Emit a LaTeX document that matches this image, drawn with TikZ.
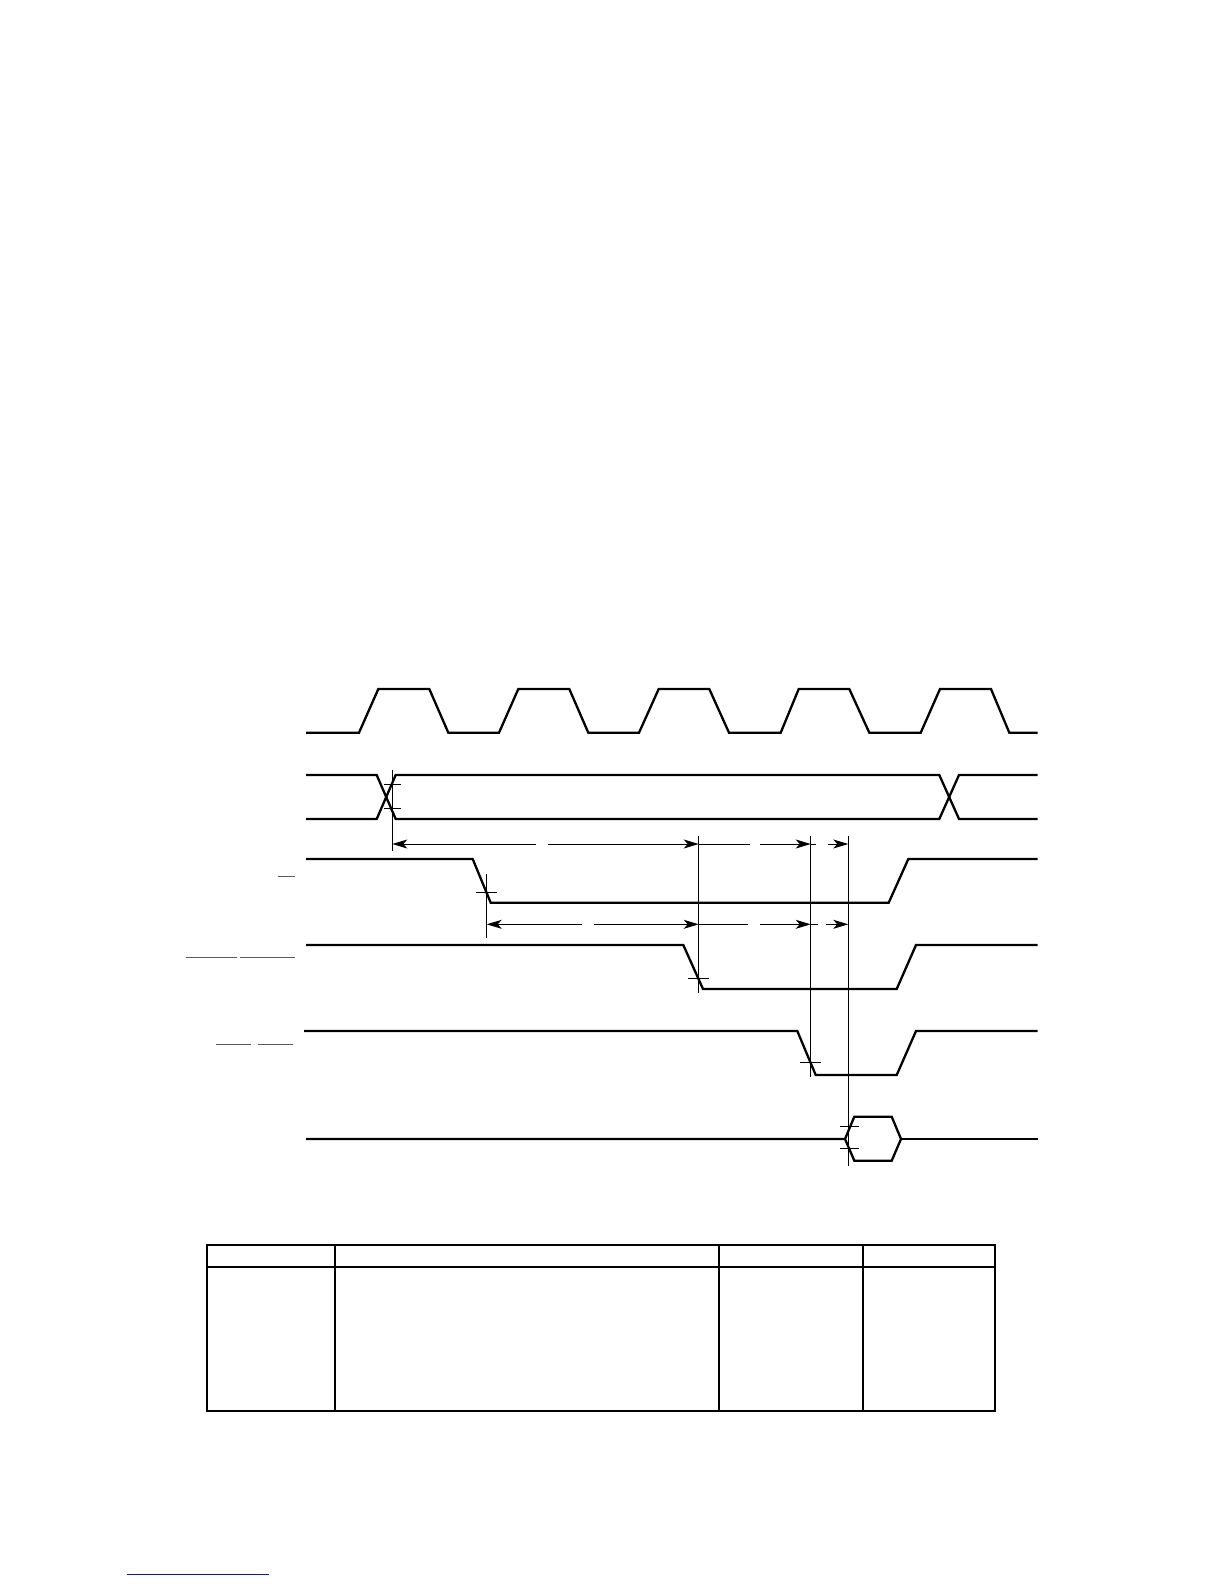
\documentclass[tikz,border=0pt]{standalone}
\usetikzlibrary{arrows.meta}
\definecolor{linkblue}{RGB}{20,20,160}
\definecolor{bargray}{RGB}{90,90,90}
\begin{document}
\begin{tikzpicture}[x=1pt,y=-1pt,
  sig/.style={line width=2.3pt,line join=miter},
  guide/.style={line width=1pt},
  tickmark/.style={line width=1pt},
  tab/.style={line width=2pt},
  bar/.style={line width=1pt,bargray},
  tipr/.style={line width=1pt,-{Stealth[length=15pt,width=9pt,inset=4pt]}},
  tipl/.style={line width=1pt,{Stealth[length=15pt,width=9pt,inset=4pt]}-},
  seg/.style={line width=1pt}]
\useasboundingbox (0,0) rectangle (1224,1584);
\fill[white] (0,0) rectangle (1224,1584);

% clock
\draw[sig] (306,732.7) -- (359,732.7) -- (378.3,689) -- (429.3,689) -- (448.3,732.7)
  -- (499,732.7) -- (518.3,689) -- (569.3,689) -- (588.3,732.7)
  -- (639,732.7) -- (658.7,689) -- (709.3,689) -- (729,732.7)
  -- (780.7,732.7) -- (798.7,689) -- (849.3,689) -- (869.3,732.7)
  -- (920.7,732.7) -- (940,689) -- (991,689) -- (1009.3,732.7) -- (1037.7,732.7);

% address bus
\draw[sig] (306,775) -- (376.7,775) -- (395.7,819) -- (939.3,819) -- (959,775) -- (1037.7,775);
\draw[sig] (306,819) -- (376.7,819) -- (395.7,775) -- (939.3,775) -- (959,819) -- (1037.7,819);

% signal 3
\draw[sig] (306,859) -- (472.7,859) -- (490.7,902.7) -- (888.7,902.7) -- (908.3,859) -- (1037.7,859);
% signal 4
\draw[sig] (306,945) -- (683.3,945) -- (703,989) -- (896.7,989) -- (916,945) -- (1037.7,945);
% signal 5
\draw[sig] (304,1031) -- (797.3,1031) -- (815.7,1075) -- (896.7,1075) -- (916,1031) -- (1037.7,1031);
% data
\draw[sig] (306,1139) -- (845,1139) -- (854.3,1116.7) -- (891.7,1116.7) -- (901,1139)
  -- (891.7,1160.7) -- (854.3,1160.7) -- (845,1139);
\draw[sig] (901,1139) -- (1037.7,1139);

% marker coordinates
\coordinate (a1) at (392.3,844);
\coordinate (v1) at (698.7,844);
\coordinate (v2) at (810.7,844);
\coordinate (v3) at (848.3,844);
\coordinate (b1) at (486.7,924.3);
\coordinate (w1) at (698.7,924.3);
\coordinate (w2) at (810.7,924.3);
\coordinate (w3) at (848.3,924.3);

% vertical guide lines
\draw[guide] (392.3,770) -- (392.3,850.7);
\draw[guide] (486.7,874.3) -- (486.7,937.7);
\draw[guide] (698.7,835.7) -- (698.7,993.3);
\draw[guide] (810.7,835.7) -- (810.7,1076.7);
\draw[guide] (848.3,835.7) -- (848.3,1166);

% ticks
\draw[tickmark] (384.3,784) -- (400.7,784);
\draw[tickmark] (384.3,808) -- (400.7,808);
\draw[tickmark] (476,892.3) -- (496.7,892.3);
\draw[tickmark] (688.3,978.7) -- (709,978.7);
\draw[tickmark] (800,1062.7) -- (820.7,1062.7);
\draw[tickmark] (840,1126) -- (859,1126);
\draw[tickmark] (840,1148.7) -- (859,1148.7);

% timing arrows row 1
\draw[tipl] (a1) -- (535.7,844);
\draw[tipr] (548.3,844) -- (v1);
\draw[seg] (v1) -- (750,844);
\draw[tipr] (760,844) -- (v2);
\draw[seg] (v2) -- (816,844);
\draw[tipr] (828.3,844) -- (v3);

% timing arrows row 2
\draw[tipl] (b1) -- (581.7,924.3);
\draw[tipr] (594,924.3) -- (w1);
\draw[seg] (w1) -- (747.7,924.3);
\draw[tipr] (760,924.3) -- (w2);
\draw[seg] (w2) -- (818.3,924.3);
\draw[tipr] (826,924.3) -- (w3);

% label overbars
\draw[bar] (278.3,876) -- (294.7,876);
\draw[bar] (186,957.8) -- (236.7,957.8);
\draw[bar] (240,957.8) -- (294.7,957.8);
\draw[bar] (216,1044.3) -- (251,1044.3);
\draw[bar] (258,1044.3) -- (292.7,1044.3);

% table
\draw[tab] (206.7,1245) rectangle (995.3,1411);
\draw[tab] (206.7,1266.7) -- (995.3,1266.7);
\draw[tab] (335,1245) -- (335,1411);
\draw[tab] (719,1245) -- (719,1411);
\draw[tab] (863,1245) -- (863,1411);

% link underline
\draw[line width=1pt,linkblue] (127.3,1574.7) -- (269,1574.7);
\end{tikzpicture}
\end{document}
